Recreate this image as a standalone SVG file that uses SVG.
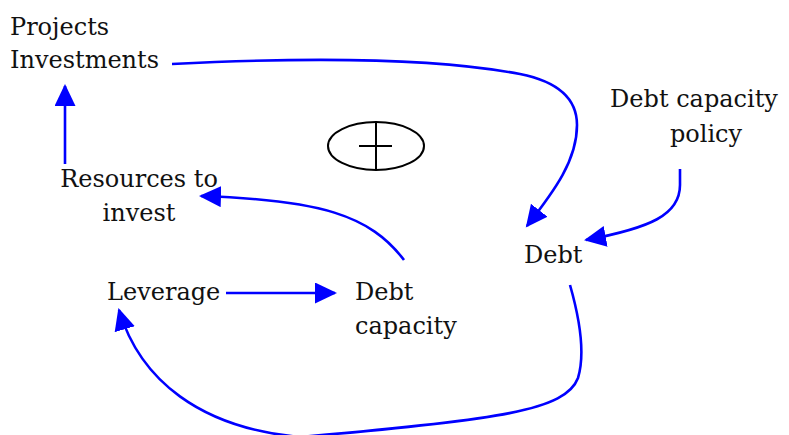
<svg xmlns="http://www.w3.org/2000/svg" width="789" height="435" viewBox="0 0 789 435">
<defs>
<style>
text{font-family:"DejaVu Serif","Liberation Serif",serif;font-size:24px;fill:#111}
.c{fill:none;stroke:#0000ff;stroke-width:2.6}
.s{fill:none;stroke:#000;stroke-width:2}
</style>
<marker id="ah" markerUnits="userSpaceOnUse" markerWidth="24" markerHeight="22" refX="20" refY="10.5" orient="auto">
<path d="M0,0 L22,10.5 L0,21 z" fill="#0000ff"/>
</marker>
</defs>
<rect width="789" height="435" fill="#fff"/>
<g id="node-projects"><text x="10" y="35">Projects</text><text x="10" y="68">Investments</text></g>
<g id="node-resources"><text x="139" y="187" text-anchor="middle">Resources to</text><text x="139" y="221" text-anchor="middle">invest</text></g>
<g id="node-leverage"><text x="107" y="300">Leverage</text></g>
<g id="node-debtcapacity"><text x="355" y="300">Debt</text><text x="355" y="334">capacity</text></g>
<g id="node-debt"><text x="524" y="263">Debt</text></g>
<g id="node-policy"><text x="694" y="107" text-anchor="middle">Debt capacity</text><text x="706" y="142" text-anchor="middle">policy</text></g>
<g id="loop-sign">
<ellipse class="s" cx="376" cy="146" rx="48" ry="24"/>
<line class="s" x1="376" y1="122" x2="376" y2="170"/>
<line class="s" x1="359" y1="146" x2="392" y2="146"/>
</g>
<g id="connectors">
<path class="c" d="M65,164 L65,86" marker-end="url(#ah)"/>
<path class="c" d="M172,64 C290,58 430,57 520,74 C560,82 577,100 577,125 C577,160 555,190 527,226" marker-end="url(#ah)"/>
<path class="c" d="M680,169 L680,185 C680,215 650,228 586,240" marker-end="url(#ah)"/>
<path class="c" d="M404,260 C370,215 320,200 201,196" marker-end="url(#ah)"/>
<path class="c" d="M226,293 L335,293" marker-end="url(#ah)"/>
<path class="c" d="M570,285 C580,320 585,355 578,378 C566,410 500,420 300,437 C200,428 140,380 119,310" marker-end="url(#ah)"/>
</g>
</svg>
